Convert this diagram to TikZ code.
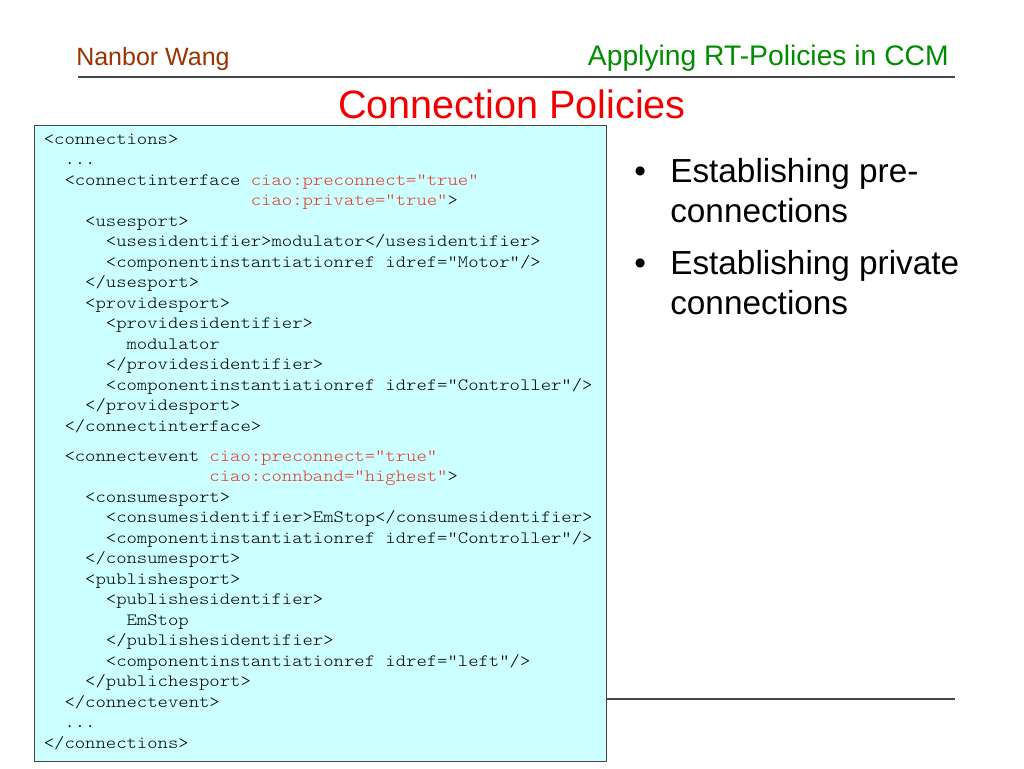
\documentclass[tikz,border=0pt]{standalone}
\usepackage{fontspec}
\setmainfont{Liberation Sans}
\usepackage{xcolor}
\usepackage{tikz}
\usetikzlibrary{calc}

\definecolor{authorbrown}{RGB}{153,51,0}
\definecolor{topicgreen}{RGB}{0,140,0}
\definecolor{titlered}{RGB}{240,0,0}
\definecolor{attrred}{RGB}{225,60,40}
\definecolor{codecyan}{RGB}{204,255,255}
\definecolor{rulegray}{RGB}{70,70,70}

\newcommand{\codepad}[1]{\hspace*{#1\fontcharwd\font`x}}
\newcommand{\codeattr}[1]{\textcolor{attrred}{#1}}

\tikzset{
	headrule/.style={rulegray, line width=1.5pt},
	codebox/.style={draw=rulegray, line width=1.1pt, fill=codecyan, inner sep=0pt,
		anchor=north west, minimum width=572*0.75pt, minimum height=636*0.75pt},
	codetext/.style={anchor=north west, inner sep=0pt, align=left, xscale=1.143, transform shape,
		font=\ttfamily\fontseries{l}\selectfont\fontsize{12.94}{15.375}\selectfont},
	bulletmark/.style={anchor=base west, inner sep=0pt, font=\fontsize{25}{30}\selectfont},
	bullettext/.style={anchor=north west, inner sep=0pt, align=left, font=\fontsize{25}{30}\selectfont}
}

\begin{document}
\begin{tikzpicture}[x=0.75pt, y=-0.75pt]
	\useasboundingbox (0,0) rectangle (1024,768);
	\node[anchor=base west, inner sep=0pt, text=authorbrown, font=\fontsize{18.75}{22}\selectfont]
		(author) at (76,65) {Nanbor Wang};
	\node[anchor=base east, inner sep=0pt, text=topicgreen, font=\fontsize{21.2}{25}\selectfont]
		(topic) at (949,65.5) {Applying RT-Policies in CCM};
	\coordinate (ruleL) at (78,77);
	\coordinate (ruleR) at (955,77);
	\draw[headrule] (ruleL) -- (ruleR);
	\node[anchor=base, inner sep=0pt, text=titlered, font=\fontsize{29.7}{34}\selectfont]
		(title) at (512,118) {Connection Policies};
	\coordinate (footL) at (78,699);
	\coordinate (footR) at (955,699);
	\draw[headrule, line width=1.1pt] (footL) -- (footR);

	\node[codebox] (box) at (34,125) {};
	\coordinate (codeorigin) at (43.5,129.65);
	\node[codetext] (code) at (codeorigin) {\strut<connections>\\
		\codepad{2}...\\
		\codepad{2}<connectinterface \codeattr{ciao:preconnect=“true”}\\
		\codepad{20}\codeattr{ciao:private=“true”}>\\
		\codepad{4}<usesport>\\
		\codepad{6}<usesidentifier>modulator</usesidentifier>\\
		\codepad{6}<componentinstantiationref idref="Motor"/>\\
		\codepad{4}</usesport>\\
		\codepad{4}<providesport>\\
		\codepad{6}<providesidentifier>\\
		\codepad{8}modulator\\
		\codepad{6}</providesidentifier>\\
		\codepad{6}<componentinstantiationref idref="Controller"/>\\
		\codepad{4}</providesport>\\
		\codepad{2}</connectinterface>\\[7.1pt]
		\codepad{2}<connectevent \codeattr{ciao:preconnect=“true”}\\
		\codepad{16}\codeattr{ciao:connband=“highest”}>\\
		\codepad{4}<consumesport>\\
		\codepad{6}<consumesidentifier>EmStop</consumesidentifier>\\
		\codepad{6}<componentinstantiationref idref="Controller"/>\\
		\codepad{4}</consumesport>\\
		\codepad{4}<publishesport>\\
		\codepad{6}<publishesidentifier>\\
		\codepad{8}EmStop\\
		\codepad{6}</publishesidentifier>\\
		\codepad{6}<componentinstantiationref idref="left"/>\\
		\codepad{4}</publichesport>\\
		\codepad{2}</connectevent>\\
		\codepad{2}...\\
		</connections>};

	\node[bulletmark] (dot1) at (634,182) {•};
	\node[bullettext] (item1) at (670,154) {\strut Establishing pre-\\connections};
	\node[bulletmark] (dot2) at (634,274) {•};
	\node[bullettext] (item2) at (670,246) {\strut Establishing private\\connections};
\end{tikzpicture}
\end{document}
